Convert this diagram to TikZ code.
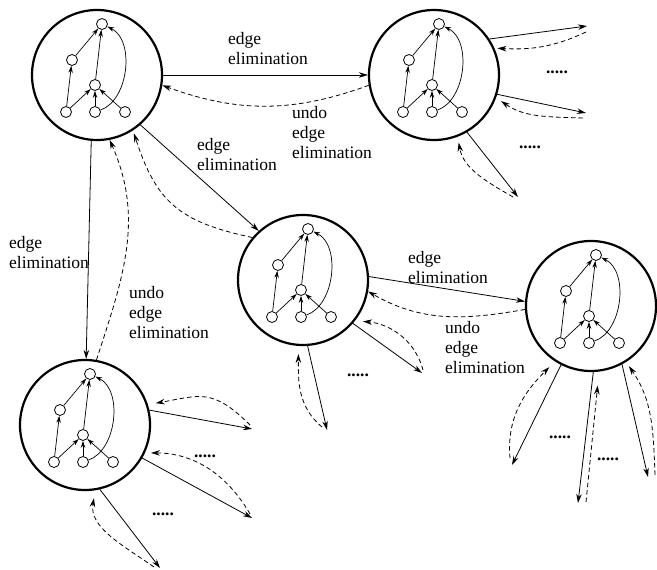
\documentclass[tikz,border=0pt]{standalone}
\usepackage{fontspec}
\setmainfont{Liberation Serif}
\usetikzlibrary{arrows.meta}

\tikzset{
  state/.style={circle, draw, line width=2.2pt, minimum size=130pt, inner sep=0pt},
  vtx/.style={circle, draw, line width=0.8pt, minimum size=11pt, inner sep=0pt, fill=white},
  garc/.style={-{Stealth[length=7pt,width=4.5pt]}, line width=0.7pt},
  fwd/.style={-{Stealth[length=9pt,width=5.5pt]}, line width=0.8pt},
  back/.style={fwd, dash pattern=on 4.5pt off 3pt},
  % multi-line labels are placed by the baseline of their last line
  lbl/.style={anchor=base west, align=left, inner sep=0pt, font=\fontsize{17.5}{20}\selectfont},
  more/.style={inner sep=0pt, font=\fontsize{17.5}{20}\selectfont\bfseries}
}

% the small dependency graph drawn inside each state circle
\newcommand\stategraph[1]{%
  \begin{scope}[shift={(#1.center)}]
    \node[vtx] (#1t) at (5,51) {};
    \node[vtx] (#1l) at (-25,15) {};
    \node[vtx] (#1m) at (-2,-10) {};
    \node[vtx] (#1a) at (-31,-37) {};
    \node[vtx] (#1b) at (-2,-37) {};
    \node[vtx] (#1c) at (28,-37) {};
    \draw[garc] (#1a) -- (#1l);
    \draw[garc] (#1l) -- (#1t);
    \draw[garc] (#1m) -- (#1t);
    \draw[garc] (#1a) -- (#1m);
    \draw[garc] (#1b) -- (#1m);
    \draw[garc] (#1c) -- (#1m);
    \draw[garc] (#1b) .. controls (32,-25) and (38,35) .. (#1t);
  \end{scope}}

\begin{document}
\begin{tikzpicture}[x=1pt,y=1pt]
\useasboundingbox (0,0) rectangle (657,-570);

% states
\node[state] (c1) at (97,-75) {};
\node[state] (c2) at (434,-75) {};
\node[state] (c3) at (303,-280) {};
\node[state] (c4) at (591,-306) {};
\node[state] (c5) at (85,-425) {};
\stategraph{c1}
\stategraph{c2}
\stategraph{c3}
\stategraph{c4}
\stategraph{c5}

% labels
\node[lbl] (l1) at (228,-64) {edge\\elimination};
\node[lbl] (l2) at (292,-158) {undo\\edge\\elimination};
\node[lbl] (l3) at (197,-170) {edge\\elimination};
\node[lbl] (l4) at (9,-268) {edge\\elimination};
\node[lbl] (l5) at (129,-338) {undo\\edge\\elimination};
\node[lbl] (l6) at (408,-283) {edge\\elimination};
\node[lbl] (l7) at (445,-373) {undo\\edge\\elimination};

% transitions between states
\draw[fwd] (c1) -- (c2);
\draw[back] (c2.189) to[out=200,in=-20] (c1.351);
\draw[fwd] (c1.-49) -- (c3.132);
\draw[back, shorten >=3pt] (c3.140) to[out=168,in=-72,looseness=1.2] (c1.303);
\draw[fwd] (c1.265) -- (c5.89);
\draw[back] (c5.80) to[out=72,in=-66] (c1.281);
\draw[fwd] (c3.3) -- (c4.176);
\draw[back] (c4.183) to[out=190,in=-30] (c3.350);

% further transitions out of c2
\coordinate (a1) at (587,-26);  \coordinate (a1r) at (586,-32);
\coordinate (a2) at (586,-113); \coordinate (a2r) at (583,-118);
\coordinate (a3) at (518,-197); \coordinate (a3r) at (513,-197);
\draw[fwd] (c2.33) -- (a1);
\draw[back, shorten >=3pt] (a1r) to[out=205,in=-3] (c2.24);
\draw[fwd] (c2.-17) -- (a2);
\draw[back, shorten >=6pt] (a2r) to[out=178,in=-35] (c2.-20);
\draw[fwd] (c2.-60) -- (a3);
\draw[back, shorten >=6pt] (a3r) to[out=150,in=-80] (c2.-69);

% further transitions out of c5
\coordinate (b1) at (252,-429); \coordinate (b1r) at (250,-425);
\coordinate (b2) at (252,-518); \coordinate (b2r) at (250,-514);
\coordinate (b3) at (160,-568); \coordinate (b3r) at (154,-567);
\draw[fwd] (c5.13) -- (b1);
\draw[back, shorten >=8pt] (b1r) to[out=135,in=10,looseness=1.3] (c5.18);
\draw[fwd] (c5.-30) -- (b2);
\draw[back, shorten >=6pt] (b2r) to[out=120,in=0] (c5.-25);
\draw[fwd] (c5.-77) -- (b3);
\draw[back, shorten >=8pt] (b3r) to[out=145,in=-100] (c5.-81);

% further transitions out of c3
\coordinate (d1) at (422,-373); \coordinate (d1r) at (423,-370);
\coordinate (d2) at (327,-430); \coordinate (d2r) at (322,-427);
\draw[fwd] (c3.-41) -- (d1);
\draw[back, shorten >=8pt] (d1r) to[out=105,in=-5] (c3.-38);
\draw[fwd] (c3.-86) -- (d2);
\draw[back, shorten >=8pt] (d2r) to[out=140,in=-90] (c3.-94);

% further transitions out of c4
\coordinate (e1) at (512,-465); \coordinate (e1r) at (510,-458);
\coordinate (e2) at (578,-503); \coordinate (e2r) at (586,-502);
\coordinate (e3) at (648,-477); \coordinate (e3r) at (655,-475);
\draw[fwd] (c4.-117) -- (e1);
\draw[back, shorten >=8pt] (e1r) to[out=95,in=-135] (c4.-123);
\draw[fwd] (c4.-88) -- (e2);
\draw[back, shorten >=14pt] (e2r) -- (c4.-83);
\draw[fwd] (c4.-62) -- (e3);
\draw[back, shorten >=5pt] (e3r) to[out=92,in=-55] (c4.-58);

% elided transitions
\node[more] (m1) at (557,-72) {.....};
\node[more] (m2) at (530,-147) {.....};
\node[more] (m3) at (205,-456) {.....};
\node[more] (m4) at (163,-514) {.....};
\node[more] (m5) at (358,-375) {.....};
\node[more] (m6) at (560,-437) {.....};
\node[more] (m7) at (608,-459) {.....};
\end{tikzpicture}
\end{document}
